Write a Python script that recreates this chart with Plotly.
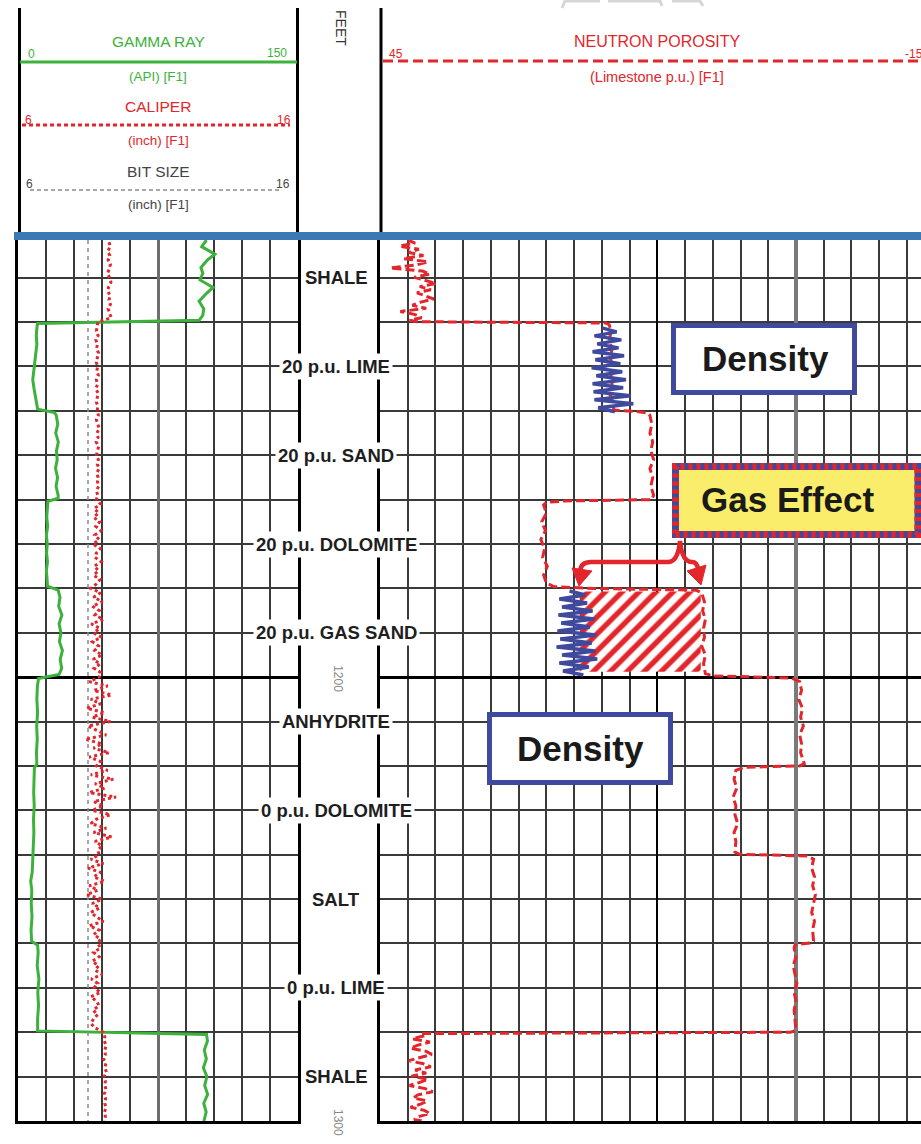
import plotly.graph_objects as go

W, H = 921, 1144


def px(x):
    return x / W


def py(y):
    return 1 - y / H


# ---------------- data ----------------
# Gamma ray (API) by zone
gr_shale_top_d = [1101.5, 1103, 1104.7, 1106, 1107.7, 1109, 1110.5, 1112.2, 1113.5, 1115.3, 1117, 1118.5, 1119.6]
gr_shale_top_v = [101, 98.4, 105.5, 101.5, 98, 99, 97.5, 104.5, 101, 97, 99.5, 99, 97]
gr_lime20_d = [1120.3, 1121, 1123, 1125, 1127, 1129, 1131, 1133, 1135, 1137, 1139, 1139.6]
gr_lime20_v = [10.5, 10.2, 9.8, 10.1, 9.6, 9.2, 8.3, 7.9, 8.6, 9.4, 10.0, 10.5]
gr_sand20_d = [1140.4, 1141, 1143, 1145, 1147, 1149, 1151, 1153, 1155, 1157, 1159, 1159.7]
gr_sand20_v = [19.5, 20.5, 21.3, 20.2, 21.6, 20.6, 21.0, 20.1, 21.2, 20.4, 21.5, 21.5]
gr_dolo20_d = [1160.4, 1162, 1164, 1166, 1168, 1170, 1172, 1174, 1176, 1178, 1179.5]
gr_dolo20_v = [16.0, 15.8, 15.4, 15.9, 15.2, 15.7, 15.3, 15.8, 15.2, 15.6, 15.8]
gr_gas_d = [1180.4, 1182, 1184, 1186, 1188, 1190, 1192, 1194, 1196, 1198, 1199.4]
gr_gas_v = [21.5, 22.5, 21.8, 23.5, 22.0, 23.0, 22.2, 23.8, 22.6, 23.4, 22.0]
gr_anhy_d = [1200.3, 1202, 1205, 1208, 1211, 1214, 1217, 1219.6]
gr_anhy_v = [11.0, 10.4, 10.1, 10.5, 10.0, 10.3, 9.9, 10.1]
gr_dolo0_d = [1220.4, 1223, 1226, 1229, 1232, 1235, 1238, 1239.6]
gr_dolo0_v = [8.8, 8.6, 8.4, 8.7, 8.3, 8.5, 8.1, 8.2]
gr_salt_d = [1240.4, 1244, 1246, 1248, 1251, 1254, 1257, 1259.5]
gr_salt_v = [8.0, 7.6, 6.8, 7.4, 7.1, 7.5, 7.0, 7.3]
gr_lime0_d = [1260.4, 1262, 1265, 1268, 1271, 1274, 1277, 1279.7]
gr_lime0_v = [10.5, 10.8, 10.3, 11.2, 10.6, 11.0, 10.5, 10.5]
gr_shale_bot_d = [1280.5, 1282, 1284, 1286, 1288, 1290, 1292, 1294, 1296, 1298, 1300]
gr_shale_bot_v = [101, 101.5, 99.8, 100.9, 99.3, 101.2, 100.0, 101.6, 99.5, 100.8, 99.6]

# Caliper (inch), one reading per foot from 1102 to 1300 ft
caliper_depth = list(range(1102, 1301))
caliper = [
    9.25, 9.3, 9.2, 9.28, 9.22, 9.3, 9.26, 9.2, 9.27, 9.32, 9.24, 9.2, 9.29, 9.25, 9.3, 9.22, 9.27, 9.33,
    8.85,
    8.82, 8.8, 8.86, 8.78, 8.84, 8.8, 8.88, 8.83, 8.79, 8.85, 8.81, 8.87, 8.8, 8.84, 8.78, 8.86, 8.82, 8.8, 8.85,
    8.83, 8.87, 8.8, 8.85, 8.9, 8.82, 8.86, 8.79, 8.88, 8.84, 8.8, 8.87, 8.83, 8.9, 8.81, 8.86, 8.84, 8.88, 8.8, 8.85,
    8.8, 8.95, 8.72, 8.88, 8.7, 8.92, 8.78, 8.96, 8.74, 8.9, 8.68, 8.94, 8.8, 8.75, 8.97, 8.72, 8.88, 8.7, 8.93, 8.8,
    8.6, 8.95, 8.7, 9.02, 8.65, 8.9, 8.75, 9.05, 8.62, 8.92, 8.7, 8.98, 8.66, 8.88, 8.74, 9.0, 8.68, 8.94, 8.72, 8.96,
    8.9, 8.55, 9.2, 8.7, 9.35, 8.6, 8.95, 8.45, 9.1, 8.65, 9.3, 8.5, 8.85, 9.15, 8.4, 9.0, 8.7, 9.25, 8.55, 8.95,
    8.8, 9.2, 8.6, 9.4, 8.75, 9.1, 8.55, 9.5, 8.7, 9.05, 8.65, 9.3, 8.8, 8.6, 9.15, 8.7, 9.35, 8.75, 9.0, 8.85,
    8.9, 8.6, 9.05, 8.5, 8.95, 8.7, 9.1, 8.55, 8.85, 8.45, 9.0, 8.65, 8.92, 8.6, 8.8, 9.05, 8.55, 8.9, 8.7, 8.95,
    8.85, 8.95, 8.7, 8.9, 8.65, 8.88, 8.75, 9.0, 8.62, 8.85, 8.72, 8.95, 8.6, 8.8, 8.9, 8.68, 8.85, 8.7, 8.6, 8.75,
    9.05, 9.1, 9.08, 9.15, 9.1, 9.12, 9.05, 9.14, 9.1, 9.16, 9.08, 9.12, 9.1, 9.15, 9.07, 9.13, 9.1, 9.14, 9.09, 9.12, 9.1,
]

# Bit size (inch)
bit_depth = [1101.5, 1300]
bit_size = [8.5, 8.5]

# Neutron porosity (limestone p.u.) by zone
nphi_shale_top_d = [1101.5, 1102.2, 1102.9, 1103.6, 1104.3, 1105.0, 1105.7, 1106.4, 1107.1, 1107.8, 1108.5,
                    1109.2, 1109.9, 1110.6, 1111.3, 1112.0, 1112.7, 1113.4, 1114.1, 1114.8, 1115.5, 1116.2,
                    1116.9, 1117.6, 1118.3, 1119.0, 1119.6, 1119.9]
nphi_shale_top_v = [42.0, 41.2, 42.9, 40.8, 41.9, 40.3, 42.5, 39.8, 41.1, 43.9, 40.4, 39.6, 41.3, 40.1, 38.9,
                    40.7, 39.5, 41.0, 40.2, 39.2, 40.6, 41.5, 40.0, 42.8, 41.2, 40.5, 41.8, 41.0]
nphi_lime20_d = [1120.2, 1120.6, 1122, 1124, 1126, 1128, 1130, 1132, 1134, 1136, 1138, 1139.8]
nphi_lime20_v = [20.6, 20.2, 20.0, 20.2, 19.9, 20.1, 19.8, 20.0, 19.9, 20.2, 19.8, 19.7]
nphi_sand20_d = [1140.2, 1140.5, 1141, 1143, 1145, 1147, 1149, 1151, 1153, 1155, 1157, 1159, 1160.0]
nphi_sand20_v = [17.0, 16.0, 15.8, 15.6, 15.8, 15.5, 15.7, 15.4, 15.8, 15.5, 15.7, 15.4, 15.6]
nphi_dolo20_d = [1160.3, 1160.6, 1161.2, 1163, 1165, 1167, 1169, 1171, 1173, 1175, 1177, 1178.8, 1179.6]
nphi_dolo20_v = [25.0, 27.0, 27.3, 27.0, 27.5, 27.1, 27.6, 27.2, 27.4, 26.9, 27.3, 27.0, 26.2]
nphi_gas_d = [1180.0, 1180.4, 1181, 1183, 1185, 1187, 1189, 1191, 1193, 1195, 1197, 1199.2, 1199.7]
nphi_gas_v = [22.0, 10.8, 10.2, 9.9, 10.1, 9.8, 10.0, 9.9, 10.2, 9.8, 10.0, 9.8, 9.0]
nphi_anhy_d = [1200.2, 1201, 1203, 1205, 1207, 1209, 1211, 1213, 1215, 1217, 1219.5, 1220.0]
nphi_anhy_v = [0.5, -0.4, -0.6, -0.3, -0.7, -0.5, -0.8, -0.4, -0.6, -0.5, -0.9, -0.4]
nphi_dolo0_d = [1220.3, 1221, 1223, 1225, 1227, 1229, 1231, 1233, 1235, 1237, 1239.4, 1239.9]
nphi_dolo0_v = [5.6, 6.5, 6.7, 6.4, 6.8, 6.5, 6.6, 6.3, 6.7, 6.5, 6.6, 6.1]
nphi_salt_d = [1240.3, 1241, 1243, 1245, 1247, 1249, 1251, 1253, 1255, 1257, 1259.4, 1259.9]
nphi_salt_v = [-1.2, -1.9, -1.7, -2.0, -1.8, -2.1, -1.9, -1.7, -2.0, -1.8, -1.9, -1.5]
nphi_lime0_d = [1260.3, 1261, 1263, 1265, 1267, 1269, 1271, 1273, 1275, 1277, 1279.6, 1280.0]
nphi_lime0_v = [0.1, 0.2, 0.0, 0.3, 0.1, -0.1, 0.2, 0.0, 0.2, 0.1, 0.0, 0.6]
nphi_shale_bot_d = [1280.3, 1280.8, 1281.5, 1282.2, 1282.9, 1283.6, 1284.3, 1285.0, 1285.7, 1286.4, 1287.1,
                    1287.8, 1288.5, 1289.2, 1289.9, 1290.6, 1291.3, 1292.0, 1292.7, 1293.4, 1294.1, 1294.8,
                    1295.5, 1296.2, 1296.9, 1297.6, 1298.3, 1299.0, 1299.7, 1300.0]
nphi_shale_bot_v = [40.5, 40.2, 41.5, 39.6, 40.9, 41.7, 40.0, 39.4, 40.8, 41.9, 40.3, 39.5, 41.2, 40.0, 41.6,
                    39.8, 40.7, 41.8, 40.1, 39.3, 40.9, 41.4, 39.9, 40.6, 41.7, 40.2, 39.6, 40.8, 41.3, 40.4]

# Density porosity (zig-zag sketch) in the 20 p.u. lime and gas sand
dens_lime_d = [1121.3, 1122.2, 1123.1, 1124.0, 1124.9, 1125.8, 1126.7, 1127.6, 1128.5, 1129.4, 1130.3,
               1131.2, 1132.1, 1133.0, 1133.9, 1134.8, 1135.7, 1136.6, 1137.5, 1138.4, 1139.3, 1140.2]
dens_lime_v = [21.0, 19.4, 21.8, 18.9, 21.5, 19.2, 22.0, 18.6, 21.7, 19.0, 22.1, 18.8, 21.6, 18.4, 22.0,
               18.7, 21.9, 17.9, 21.8, 17.6, 21.4, 19.6]
dens_gas_d = [1180.6, 1181.5, 1182.4, 1183.3, 1184.2, 1185.1, 1186.0, 1186.9, 1187.8, 1188.7, 1189.6,
              1190.5, 1191.4, 1192.3, 1193.2, 1194.1, 1195.0, 1195.9, 1196.8, 1197.7, 1198.6, 1199.5]
dens_gas_v = [24.5, 22.8, 25.6, 22.6, 25.3, 22.0, 25.7, 21.8, 25.4, 22.3, 25.8, 21.6, 25.5, 22.1, 25.9,
              21.7, 25.3, 21.5, 25.6, 22.4, 25.2, 23.0]

# Gas-effect crossover area
gas_top, gas_bottom = 1180.7, 1198.8
gas_density_phi, gas_neutron_phi = 23.4, 10.3

# Depth-track labels
label_depths = [1110, 1130, 1150, 1170, 1190, 1210, 1230, 1250, 1270, 1290]
label_texts = ["SHALE", "20 p.u. LIME", "20 p.u. SAND", "20 p.u. DOLOMITE", "20 p.u. GAS SAND",
               "ANHYDRITE", "0 p.u. DOLOMITE", "SALT", "0 p.u. LIME", "SHALE"]
depth_marks = [1200, 1300]

# ---------------- assemble curves ----------------
gr_depth = (gr_shale_top_d + gr_lime20_d + gr_sand20_d + gr_dolo20_d + gr_gas_d + gr_anhy_d
            + gr_dolo0_d + gr_salt_d + gr_lime0_d + gr_shale_bot_d)
gamma_ray = (gr_shale_top_v + gr_lime20_v + gr_sand20_v + gr_dolo20_v + gr_gas_v + gr_anhy_v
             + gr_dolo0_v + gr_salt_v + gr_lime0_v + gr_shale_bot_v)
nphi_depth = (nphi_shale_top_d + nphi_lime20_d + nphi_sand20_d + nphi_dolo20_d + nphi_gas_d + nphi_anhy_d
              + nphi_dolo0_d + nphi_salt_d + nphi_lime0_d + nphi_shale_bot_d)
nphi = (nphi_shale_top_v + nphi_lime20_v + nphi_sand20_v + nphi_dolo20_v + nphi_gas_v + nphi_anhy_v
        + nphi_dolo0_v + nphi_salt_v + nphi_lime0_v + nphi_shale_bot_v)
assert len(gr_depth) == len(gamma_ray) and len(nphi_depth) == len(nphi)
assert len(caliper_depth) == len(caliper)

GREEN = "#3cb23c"
RED = "#e2262b"
BLUE = "#3f4a9f"
GRAY = "#8a8a8a"

fig = go.Figure()
fig.add_trace(go.Scatter(x=bit_size, y=bit_depth, xaxis="x2", yaxis="y", mode="lines",
                         line=dict(color=GRAY, width=1.5, dash="4px,4px"), hoverinfo="skip"))
fig.add_trace(go.Scatter(x=caliper, y=caliper_depth, xaxis="x2", yaxis="y", mode="lines",
                         line=dict(color=RED, width=3, dash="3px,3px"), hoverinfo="skip"))
fig.add_trace(go.Scatter(x=gamma_ray, y=gr_depth, xaxis="x", yaxis="y", mode="lines",
                         line=dict(color=GREEN, width=3), hoverinfo="skip"))
fig.add_trace(go.Scatter(
    x=[gas_density_phi, gas_neutron_phi, gas_neutron_phi, gas_density_phi],
    y=[gas_top, gas_top, gas_bottom, gas_bottom], xaxis="x3", yaxis="y2",
    mode="lines", fill="toself", fillcolor="white", line=dict(width=0, color=RED),
    fillpattern=dict(shape="/", fgcolor=RED, bgcolor="white", fgopacity=1, size=12, solidity=0.45),
    hoverinfo="skip"))
fig.add_trace(go.Scatter(x=nphi, y=nphi_depth, xaxis="x3", yaxis="y2", mode="lines",
                         line=dict(color=RED, width=3, dash="9px,4px"), hoverinfo="skip"))
fig.add_trace(go.Scatter(x=dens_lime_v, y=dens_lime_d, xaxis="x3", yaxis="y2", mode="lines",
                         line=dict(color=BLUE, width=3.5), hoverinfo="skip"))
fig.add_trace(go.Scatter(x=dens_gas_v, y=dens_gas_d, xaxis="x3", yaxis="y2", mode="lines",
                         line=dict(color=BLUE, width=3.5), hoverinfo="skip"))

ydom = [py(1121), py(240)]
MINOR = "#3a3a3a"
common_y = dict(domain=ydom, range=[1300, 1101.5], tickmode="linear", tick0=1100, dtick=100,
                showgrid=True, gridcolor="black", gridwidth=3,
                minor=dict(tickmode="linear", tick0=1100, dtick=10, showgrid=True,
                           gridcolor=MINOR, gridwidth=1.6, ticks=""),
                showticklabels=False, ticks="", zeroline=False,
                showline=True, linecolor="black", linewidth=3)

fig.update_layout(
    width=W, height=H, margin=dict(l=0, r=0, t=0, b=0),
    paper_bgcolor="white", plot_bgcolor="white", showlegend=False,
    xaxis=dict(domain=[px(18), px(298)], range=[0, 150], anchor="y",
               tickmode="array", tickvals=[75], showgrid=True, gridcolor="#6e6e6e", gridwidth=3,
               minor=dict(tickmode="linear", tick0=0, dtick=15, showgrid=True,
                          gridcolor=MINOR, gridwidth=1.6, ticks=""),
               showticklabels=False, ticks="", zeroline=False,
               showline=True, linecolor="black", linewidth=3),
    xaxis2=dict(overlaying="x", anchor="y", range=[6, 16], visible=False, showgrid=False),
    yaxis=dict(anchor="x", mirror=True, **common_y),
    xaxis3=dict(domain=[px(380), 1.0], range=[45, 45 - 541 / 9.244], anchor="y2",
                tickmode="array", tickvals=[15], showgrid=True, gridcolor="black", gridwidth=2,
                minor=dict(tickmode="linear", tick0=0, dtick=3, showgrid=True,
                           gridcolor=MINOR, gridwidth=1.5, ticks=""),
                showticklabels=False, ticks="",
                zeroline=True, zerolinecolor="#7a7a7a", zerolinewidth=3.5,
                showline=True, linecolor="black", linewidth=3),
    yaxis2=dict(anchor="x3", matches="y", mirror=False, **common_y),
)

shapes = []


def hline(x0, x1, y, color, width, dash="solid"):
    shapes.append(dict(type="line", xref="paper", yref="paper", x0=px(x0), x1=px(x1),
                       y0=py(y), y1=py(y), line=dict(color=color, width=width, dash=dash), layer="above"))


def vline(x, y0, y1, color="black", width=3):
    shapes.append(dict(type="line", xref="paper", yref="paper", x0=px(x), x1=px(x),
                       y0=py(y0), y1=py(y1), line=dict(color=color, width=width), layer="above"))


def rect(x0, y0, x1, y1, line_color, width, fill="rgba(0,0,0,0)", dash="solid"):
    shapes.append(dict(type="rect", xref="paper", yref="paper", x0=px(x0), x1=px(x1),
                       y0=py(y1), y1=py(y0), fillcolor=fill,
                       line=dict(color=line_color, width=width, dash=dash), layer="above"))


# header
vline(19.5, 8, 233)
vline(297.5, 8, 233)
vline(381, 8, 233)
hline(20, 297, 62, GREEN, 3)
hline(22, 290, 125, RED, 3, "4px,3px")
hline(30, 280, 190, GRAY, 1.3, "4px,3px")
hline(383, 921, 61, RED, 3, "10px,5px")
hline(14, 921, 236, "#3b78b4", 8)

# faint marks at top
shapes.append(dict(type="path", xref="paper", yref="paper",
                   path=f"M {px(562)},{py(8)} L {px(565)},{py(1)} L {px(600)},{py(1)} "
                        f"M {px(608)},{py(1)} L {px(660)},{py(1)} L {px(662)},{py(6)} "
                        f"M {px(672)},{py(1)} L {px(700)},{py(1)} L {px(703)},{py(6)}",
                   line=dict(color="#d6d6d6", width=3), layer="above"))

# callout boxes
rect(673.5, 325.5, 854.5, 392.5, BLUE, 5, "white")
rect(489.5, 714.5, 670.5, 782.5, BLUE, 5, "white")
rect(675.5, 466.5, 918, 534.5, BLUE, 7, "#f9ed6b")
rect(675.5, 466.5, 918, 534.5, RED, 7, dash="4px,4px")


# gas effect bracket
def P(x, y):
    return f"{px(x)},{py(y)}"


shapes.append(dict(type="path", xref="paper", yref="paper",
                   path=(f"M {P(580, 571)} Q {P(581, 562)} {P(591, 562)} L {P(668, 562)} "
                         f"Q {P(678, 562)} {P(680, 541)} Q {P(682, 562)} {P(692, 562)} "
                         f"Q {P(697, 562)} {P(698, 569)}"),
                   line=dict(color=RED, width=4.5), layer="above"))
shapes.append(dict(type="path", xref="paper", yref="paper",
                   path=f"M {P(572, 568)} L {P(592, 571)} L {P(579, 586)} Z",
                   fillcolor=RED, line=dict(color=RED, width=1), layer="above"))
shapes.append(dict(type="path", xref="paper", yref="paper",
                   path=f"M {P(687, 571)} L {P(706, 565)} L {P(701, 585)} Z",
                   fillcolor=RED, line=dict(color=RED, width=1), layer="above"))

fig.update_layout(shapes=shapes)

ann = []
HF = "Liberation Sans, Arial, sans-serif"


def txt(x, y, s, color, size, angle=0, bold=False, xanchor="center"):
    ann.append(dict(xref="paper", yref="paper", x=px(x), y=py(y), text=f"<b>{s}</b>" if bold else s,
                    showarrow=False, font=dict(family=HF, size=size, color=color),
                    textangle=angle, xanchor=xanchor, yanchor="middle"))


txt(158, 42, "GAMMA RAY", GREEN, 15.5)
txt(31, 54, "0", GREEN, 12)
txt(277, 53, "150", GREEN, 12)
txt(158, 77, "(API) [F1]", GREEN, 13.5)
txt(158, 106, "CALIPER", RED, 15.5)
txt(28, 120, "6", RED, 12)
txt(284, 120, "16", RED, 12)
txt(158, 141, "(inch) [F1]", RED, 13.5)
txt(158, 171, "BIT SIZE", "#444444", 15.5)
txt(29, 184, "6", "#444444", 12)
txt(283, 184, "16", "#444444", 12)
txt(158, 205, "(inch) [F1]", "#444444", 13.5)
txt(341, 28, "FEET", "#333333", 14, angle=90)
txt(657, 42, "NEUTRON POROSITY", RED, 16)
txt(396, 54, "45", RED, 12)
txt(903, 54, "-15", RED, 12, xanchor="left")
txt(657, 77, "(Limestone p.u.) [F1]", RED, 14.5)

txt(765, 358, "Density", "#1a1a1a", 35, bold=True)
txt(580, 748, "Density", "#1a1a1a", 35, bold=True)
txt(787, 499, "Gas Effect", "#1a1a1a", 35, bold=True)

for d, t in zip(label_depths, label_texts):
    ann.append(dict(xref="paper", yref="y", x=px(336), y=d, text=f"<b>{t}</b>", showarrow=False,
                    font=dict(family=HF, size=18.5, color="#1e1e1e"), bgcolor="white", borderpad=2,
                    xanchor="center", yanchor="middle"))
for d in depth_marks:
    ann.append(dict(xref="paper", yref="y", x=px(338), y=d, text=str(d), showarrow=False,
                    font=dict(family=HF, size=12, color="#888888"), textangle=90,
                    xanchor="center", yanchor="middle", yshift=-1))

fig.update_layout(annotations=ann)
fig.write_html("out.html", config={"displayModeBar": False},
               post_script="document.body.style.margin='0';document.body.style.overflow='hidden';")
